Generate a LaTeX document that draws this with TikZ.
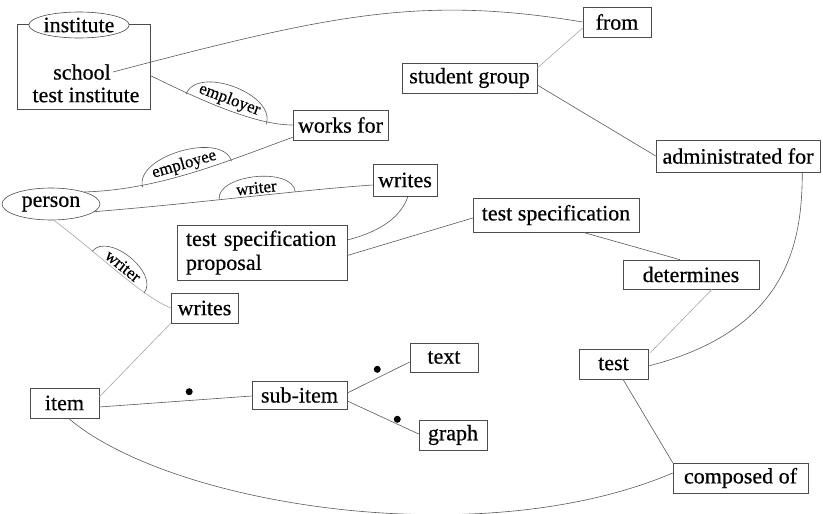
\documentclass[tikz,border=0pt]{standalone}
\usepackage{fontspec}
\setmainfont{Liberation Serif}[FakeBold=0.5]
\usetikzlibrary{calc,shapes.geometric}
\newcommand\domeover[1]{\draw[conn] (#1.south west) .. controls ($(#1.south west)!1.6!(#1.north west)$) and ($(#1.south east)!1.6!(#1.north east)$) .. (#1.south east);}
\begin{document}
\begin{tikzpicture}[x=1pt,y=-1pt,
  every node/.style={font=\fontsize{22}{24}\selectfont},
  box/.style={draw=black!70, line width=0.6pt, inner sep=0pt, minimum height=30pt, align=center},
  ent/.style={draw=black!70, ellipse, line width=0.6pt, inner sep=0pt},
  conn/.style={draw=black!65, line width=0.6pt},
  faint/.style={draw=black!35, line width=0.6pt},
  lbl/.style={sloped, anchor=south, inner xsep=0pt, inner ysep=2pt, font=\fontsize{17}{19}\selectfont},
  blob/.style={circle, fill=black, inner sep=0pt, minimum size=7pt},
]
\useasboundingbox (0,0) rectangle (823,514);

% institute container
\node[box, minimum width=133pt, minimum height=85pt] (instbox) at (83.5,66.5) {};
\node[ent, fill=white, minimum width=96pt, minimum height=26pt] (institute) at (79,25) {institute};
\node[inner sep=2pt] (school) at (82,72) {school};
\node[inner sep=2pt] (testinst) at (86,95) {test institute};

% entities
\node[ent, minimum width=98pt, minimum height=32pt] (person) at (51,204) {person};

% boxes
\node[box, minimum width=68pt] (from) at (617,22) {from};
\node[box, minimum width=135pt] (sg) at (469.5,78) {student group};
\node[box, minimum width=164pt, minimum height=32pt] (admin) at (738,156) {administrated for};
\node[box, minimum width=95pt] (workfor) at (340.5,125) {works for};
\node[box, minimum width=64pt, minimum height=32pt] (writes) at (405,180) {writes};
\node[box, minimum width=170pt, minimum height=55pt, align=left, text width=152pt] (tsp) at (262,252.5) {test specification\\proposal};
\node[box, minimum width=166pt, minimum height=34pt] (testspec) at (556,215) {test specification};
\node[box, minimum width=136pt, minimum height=29pt] (determines) at (691,274.5) {determines};
\node[box, minimum width=69pt] (test) at (613.5,364) {test};
\node[box, minimum width=135pt] (composed) at (740.5,478) {composed of};
\node[box, minimum width=67pt] (writeslow) at (204.5,308) {writes};
\node[box, minimum width=69pt] (item) at (64.5,403) {item};
\node[box, minimum width=95pt, minimum height=28pt] (subitem) at (299.5,395) {sub-item};
\node[box, minimum width=68pt, minimum height=29pt] (text) at (444,357.5) {text};
\node[box, minimum width=68pt] (graph) at (453,435) {graph};

% connectors
\draw[conn] (school.east) .. controls (330,15) and (420,-5) .. (from.west);
\draw[conn] ($(instbox.east)+(0,9)$) .. controls (200,100) and (255,125) .. (workfor.west)
  node[lbl, pos=0.5, minimum width=85pt] (lemployer) {employer};
\domeover{lemployer}
\draw[conn] (person.20) .. controls (160,190) and (230,160) .. ($(workfor.south west)+(0,-3)$)
  node[lbl, pos=0.47, minimum width=92pt] (lemployee) {employee};
\domeover{lemployee}
\draw[conn] (person.-10) .. controls (200,203) and (300,190) .. ($(writes.west)+(0,5)$)
  node[lbl, pos=0.54, minimum width=76pt] (lwriter) {writer};
\domeover{lwriter}
\draw[faint] (person.-80) .. controls (100,255) and (140,295) .. (writeslow.west)
  node[lbl, pos=0.5, minimum width=66pt] (lwriterlow) {writer};
\domeover{lwriterlow}
\draw[faint] (writeslow.south west) -- ($(item.east)+(0,-6)$);
\draw[conn] ($(writes.south)+(3,0)$) .. controls (400,220) and (375,233) .. ($(tsp.east)+(0,-12.5)$);
\draw[conn] ($(tsp.east)+(0,3)$) -- ($(testspec.west)+(0,3)$);
\draw[conn] ($(testspec.south)+(27,0)$) -- ($(determines.north)+(-11,0)$);
\draw[faint] ($(determines.south)+(21,0)$) -- ($(test.north east)+(2,4)$);
\draw[conn] ($(test.south)+(9.5,0)$) -- (composed.north west);
\draw[faint] ($(sg.east)+(0,-10)$) -- ($(from.west)+(0,6)$);
\draw[conn] ($(sg.east)+(0,7)$) -- (admin.west);
\draw[conn] ($(admin.south east)+(-18,0)$) .. controls (802,240) and (790,330) .. ($(test.east)+(0,2)$);
\draw[conn] ($(item.south)+(4,0)$) .. controls (170,505) and (480,555) .. ($(composed.west)+(0,-5)$);
\draw[conn] ($(item.east)+(0,4)$) -- ($(subitem.west)+(0,1)$)
  node[blob, pos=0.59, above=5pt] (dot1) {};
\draw[conn] ($(subitem.east)+(0,-2)$) -- ($(text.west)+(0,4.5)$)
  node[blob, pos=0.48, above=5pt] (dot2) {};
\draw[conn] ($(subitem.east)+(0,6)$) -- ($(graph.west)+(0,-1)$)
  node[blob, pos=0.7, above=1pt] (dot3) {};
\end{tikzpicture}
\end{document}
